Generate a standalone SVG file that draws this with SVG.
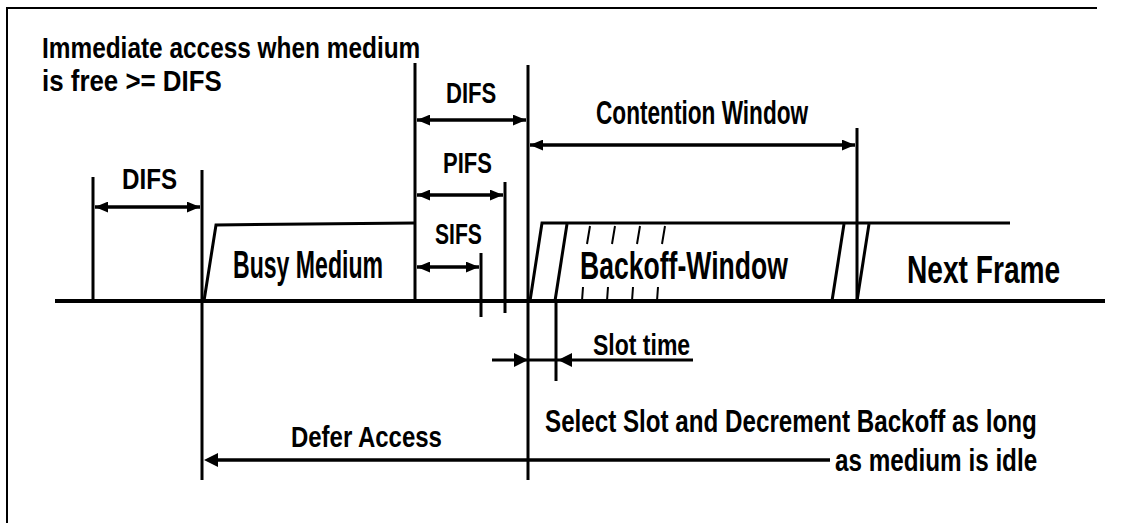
<svg xmlns="http://www.w3.org/2000/svg" width="1124" height="523" viewBox="0 0 1124 523">
<defs>
<marker id="ah" viewBox="0 0 12 10" refX="12" refY="5" markerWidth="13" markerHeight="11" markerUnits="userSpaceOnUse" orient="auto-start-reverse"><path d="M0,0 L12,5 L0,10 z" fill="#000"/></marker>
</defs>
<style>
.ln{stroke:#000;stroke-width:3;fill:none}
.thin{stroke:#000;stroke-width:2;fill:none}
.base{stroke:#000;stroke-width:4;fill:none}
.arr{stroke:#000;stroke-width:3.5;fill:none;marker-start:url(#ah);marker-end:url(#ah)}
.t{font-family:"Liberation Sans",Arial,sans-serif;font-weight:bold;fill:#000}
</style>
<rect width="1124" height="523" fill="#fff"/>
<path id="frame" class="thin" d="M7,523 V8 H1097"/>

<g id="title">
<text class="t" transform="translate(42,58) scale(0.81,1)" font-size="30" textLength="467" lengthAdjust="spacingAndGlyphs">Immediate access when medium</text>
<text class="t" transform="translate(42,91) scale(0.86,1)" font-size="30" textLength="209" lengthAdjust="spacingAndGlyphs">is free &gt;= DIFS</text>
</g>

<g id="difs-left">
<text class="t" transform="translate(122,189) scale(0.81,1)" font-size="30" textLength="68" lengthAdjust="spacingAndGlyphs">DIFS</text>
</g>

<g id="busy-medium">
<path class="ln" d="M204,301 L216,225 L415,223"/>
<text class="t" transform="translate(233,278) scale(0.61,1)" font-size="38" textLength="246" lengthAdjust="spacingAndGlyphs">Busy Medium</text>
</g>

<g id="difs-mid">
<text class="t" transform="translate(446,103) scale(0.74,1)" font-size="30" textLength="68" lengthAdjust="spacingAndGlyphs">DIFS</text>
</g>
<g id="pifs">
<text class="t" transform="translate(443,173) scale(0.73,1)" font-size="30" textLength="67" lengthAdjust="spacingAndGlyphs">PIFS</text>
</g>
<g id="sifs">
<text class="t" transform="translate(435,244) scale(0.70,1)" font-size="30" textLength="67" lengthAdjust="spacingAndGlyphs">SIFS</text>
</g>

<g id="contention-window">
<text class="t" transform="translate(596,124) scale(0.68,1)" font-size="33" textLength="312" lengthAdjust="spacingAndGlyphs">Contention Window</text>
</g>

<g id="backoff-window">
<path class="ln" d="M530,301 L542,223 H1010"/>
<path class="ln" d="M555,301 L567,224"/>
<path class="thin" d="M590,226 L587,244 M615,226 L612,244 M640,226 L637,244 M665,226 L662,244"/>
<path class="thin" d="M583,287 L582,301 M608,287 L607,301 M633,287 L632,301 M658,287 L657,301"/>
<path class="ln" d="M832,301 L844,224"/>
<text class="t" transform="translate(580,279) scale(0.70,1)" font-size="38" textLength="297" lengthAdjust="spacingAndGlyphs">Backoff-Window</text>
</g>

<g id="next-frame">
<path class="ln" d="M857,301 L869,224"/>
<text class="t" transform="translate(907,283) scale(0.74,1)" font-size="38" textLength="207" lengthAdjust="spacingAndGlyphs">Next Frame</text>
</g>

<g id="slot-time">
<text class="t" transform="translate(593,355) scale(0.79,1)" font-size="29" textLength="123" lengthAdjust="spacingAndGlyphs">Slot time</text>
</g>

<g id="defer-access">
<text class="t" transform="translate(291,447) scale(0.79,1)" font-size="30" textLength="191" lengthAdjust="spacingAndGlyphs">Defer Access</text>
</g>

<g id="select-slot">
<text class="t" transform="translate(545,432) scale(0.72,1)" font-size="32" textLength="683" lengthAdjust="spacingAndGlyphs">Select Slot and Decrement Backoff as long</text>
<text class="t" transform="translate(835,471) scale(0.76,1)" font-size="32" textLength="266" lengthAdjust="spacingAndGlyphs">as medium is idle</text>
</g>

<g id="connectors">
<path class="base" d="M55,301 H1105"/>
<path class="ln" d="M93,177 V301 M202,170 V480 M415,63 V301 M481,253 V317 M505,182 V313 M528,65 V480 M556,301 V381 M857,128 V301"/>
<path class="arr" d="M95,207 H200"/>
<path class="arr" d="M417,120 H526"/>
<path class="arr" d="M417,195 H503"/>
<path class="arr" d="M417,267 H479"/>
<path class="arr" d="M530,145 H855"/>
<path class="ln" d="M492,360 H693"/>
<path d="M528,360 L514,353 L514,367 z M558,360 L572,353 L572,367 z" fill="#000"/>
<path class="ln" d="M830,460 H215" style="stroke-width:3.5"/>
<path d="M204,460 L218,453 L218,467 z" fill="#000"/>
</g>
</svg>
